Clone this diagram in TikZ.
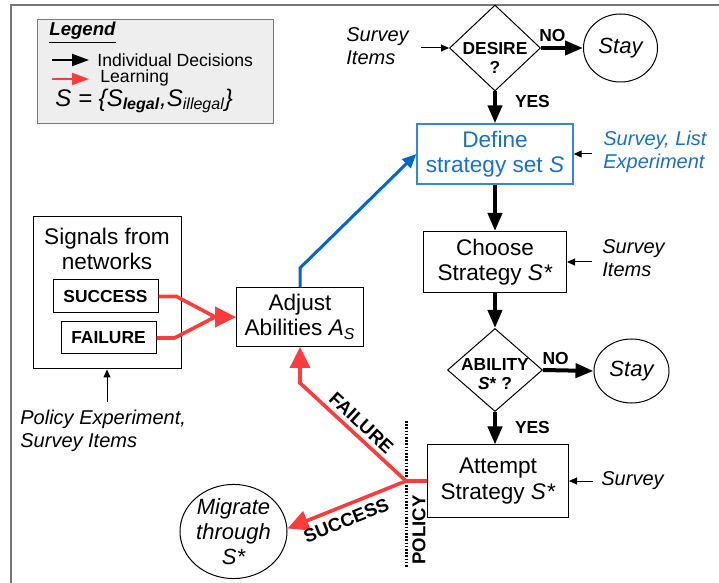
\documentclass[tikz,border=0pt]{standalone}
\usepackage{fontspec}
\setmainfont{Liberation Sans}
\usetikzlibrary{shapes.geometric, arrows.meta, positioning, calc}
\definecolor{learnred}{RGB}{255,59,59}
\definecolor{adjblue}{RGB}{0,102,204}
\definecolor{deftext}{RGB}{26,111,206}
\definecolor{defborder}{RGB}{50,135,225}
\definecolor{legendfill}{RGB}{238,238,238}
\definecolor{framegray}{RGB}{120,120,120}
\newcommand{\mainsize}{\fontsize{11.3}{12.6}\selectfont}
\newcommand{\notesize}{\fontsize{10}{11.2}\selectfont}
\newcommand{\tagsize}{\fontsize{8.7}{9.4}\selectfont}

\begin{document}
\begin{tikzpicture}[x=0.5pt, y=-0.5pt,
    every node/.style={inner sep=0pt},
    box/.style={draw, line width=0.5pt, align=center, font=\mainsize},
    decision/.style={draw, diamond, line width=0.5pt},
    dtext/.style={align=center, font=\tagsize\bfseries},
    endstate/.style={draw, ellipse, line width=0.5pt, align=center, font=\fontsize{11}{12.6}\selectfont\itshape},
    note/.style={align=left, font=\notesize\itshape},
    tag/.style={font=\tagsize\bfseries},
    routetag/.style={text=black, font=\fontsize{9.3}{10}\selectfont\bfseries},
    flow/.style={line width=2pt, -{Triangle[length=9pt,width=7pt]}},
    learn/.style={draw=learnred, line width=1.8pt},
    learnhead/.style={learnred, line width=1.8pt, -{Triangle[length=10.5pt,width=10pt]}},
    hint/.style={line width=0.5pt, -{Triangle[length=4pt,width=3.5pt]}}]

  \useasboundingbox (0,0) rectangle (719,583);
  \draw[framegray, line width=1pt] (11,583) -- (11,5) -- (719,5);

  % legend
  \node[draw=framegray, fill=legendfill, line width=0.6pt, minimum width=118pt, minimum height=52pt, anchor=north west] (legend) at (37,19) {};
  \node[anchor=west, font=\fontsize{9.3}{10}\selectfont\bfseries\itshape] (legtitle) at (49,33) {\underline{Legend}};
  \coordinate (legblack) at (52,60);
  \coordinate (legred) at (52,79);
  \draw[line width=1pt, -{Triangle[length=8.5pt,width=6pt]}] (legblack) -- ++(37,0);
  \draw[learnred, line width=1pt, -{Triangle[length=8.5pt,width=6pt]}] (legred) -- ++(37,0);
  \node[anchor=west, font=\fontsize{8.8}{10}\selectfont] (legdec) at (97,60) {Individual Decisions};
  \node[anchor=west, font=\fontsize{8.8}{10}\selectfont] (leglearn) at (100,78) {Learning};
  \node[anchor=west, font=\fontsize{12}{13}\selectfont\itshape] (legset) at (55,101)
    {S = \{S\textsubscript{\bfseries legal},S\textsubscript{illegal}\}};

  % decisions
  \node[decision, minimum width=45.5pt, minimum height=43pt,
    label={[dtext, yshift=-5pt]center:{DESIRE\\?}}] (desire) at (495,48) {};
  \node[endstate, minimum width=37pt, minimum height=34pt] (stayone) at (620.5,48) {Stay};
  \node[box, draw=defborder, line width=0.7pt, text=deftext, minimum width=78pt, minimum height=30pt] (define) at (495,154) {Define\\strategy set \textit{S}};
  \node[box, minimum width=71.5pt, minimum height=30.5pt] (choose) at (495,262) {Choose\\Strategy \textit{S*}};
  \node[decision, minimum width=47.5pt, minimum height=41.5pt,
    label={[dtext, yshift=-2pt]center:{ABILITY\\\textit{S}* ?}}] (ability) at (495,370) {};
  \node[endstate, minimum width=37.5pt, minimum height=32pt] (staytwo) at (631.5,371) {Stay};
  \node[box, minimum width=70.5pt, minimum height=36pt] (attempt) at (498,481) {Attempt\\Strategy \textit{S*}};

  % learning side
  \node[box, minimum width=63.5pt, minimum height=29.5pt] (adjust) at (300,317) {Adjust\\Abilities \textit{A}\textsubscript{\textit{S}}};
  \node[box, minimum width=74pt, minimum height=76pt] (signals) at (107,293) {};
  \node[align=center, font=\mainsize] (sigtext) at (107,249) {Signals from\\networks};
  \node[draw, line width=0.5pt, tag, minimum width=52.5pt, minimum height=16.5pt] (success) at (105.5,296.5) {SUCCESS};
  \node[draw, line width=0.5pt, tag, minimum width=47.5pt, minimum height=16pt] (failure) at (108.5,338) {FAILURE};
  \node[endstate, minimum width=53.5pt, minimum height=46.5pt] (migrate) at (233.5,531.5) {Migrate\\through\\S*};

  % data sources
  \node[note, anchor=west] (desirenote) at (346,46) {Survey\\Items};
  \node[note, anchor=west, text=deftext] (definenote) at (603,152) {Survey, List\\Experiment};
  \node[note, anchor=west] (choosenote) at (602,258) {Survey\\Items};
  \node[note, anchor=west] (attemptnote) at (601,481) {Survey};
  \node[note, anchor=west] (policynote) at (20,431) {Policy Experiment,\\Survey Items};
  \coordinate (desirein) at (421,48);
  \coordinate (definein) at (592,154);
  \coordinate (choosein) at (592,262);
  \coordinate (attemptin) at (593,481);
  \coordinate (policyin) at (107,402);
  \draw[hint] (desirein) -- (desire.west);
  \draw[hint] (definein) -- (define.east);
  \draw[hint] (choosein) -- (choose.east);
  \draw[hint] (attemptin) -- (attempt.east);
  \draw[hint] (policyin) -- (signals.south);

  % individual decisions
  \draw[flow] (desire.east) -- node[tag, above=2pt, pos=0.27] (desireno) {NO} (stayone.west);
  \draw[flow] (desire.south) -- node[tag, right=9pt, pos=0.3] (desireyes) {YES} (define.north);
  \draw[flow] (define.south) -- (choose.north);
  \draw[flow] (choose.south) -- (ability.north);
  \draw[flow] (ability.east) -- node[tag, above=2pt, pos=0.25] (abilityno) {NO} (staytwo.west);
  \draw[flow] (ability.south) -- node[tag, right=9pt, pos=0.47] (abilityyes) {YES} (ability.south |- attempt.north);

  % policy barrier
  \coordinate (policytop) at (406,421);
  \coordinate (policybot) at (406,568);
  \coordinate (junction) at (406,481);
  \draw[line width=1.5pt, dash pattern=on 0.8pt off 0.8pt] (policytop) -- (policybot);
  \node[routetag, rotate=90] (policy) at (419,530) {POLICY};

  % learning
  \coordinate (merge) at ($(adjust.west)+(-21,0)$);
  \draw[learn] (success.east) -- ++(18,0) -- (merge);
  \draw[learn] (failure.east) -- ++(18,0) -- (merge);
  \draw[learnhead] (merge) -- (adjust.west);
  \draw[learn] (attempt.west) -- (junction);
  \draw[learnhead] (junction) -- node[routetag, sloped, above=2pt] (failtag) {FAILURE} (300,383) -- (adjust.south);
  \draw[learnhead] (junction) -- node[routetag, sloped, below=3pt, pos=0.55] (succtag) {SUCCESS} ($(migrate.east)+(0,-3)$);
  \draw[adjblue, line width=1.5pt, -{Triangle[length=7pt,width=6pt]}] (adjust.north) -- ++(0,-19) -- (define.west);
\end{tikzpicture}
\end{document}
